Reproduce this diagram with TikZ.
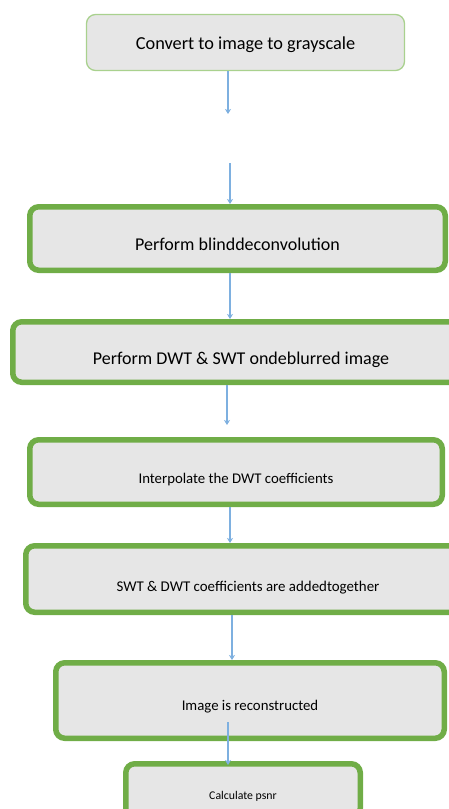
\documentclass[tikz,border=0pt]{standalone}
\usepackage{fontspec}
\setmainfont{Carlito}
\usetikzlibrary{arrows.meta}
\definecolor{boxgreen}{HTML}{70AD47}
\definecolor{palegreen}{HTML}{A9D18E}
\definecolor{boxgray}{HTML}{E6E6E6}
\definecolor{flowblue}{HTML}{7EB0E0}

\begin{document}
\begin{tikzpicture}[x=1pt,y=-1pt,
    stepbox/.style={draw=boxgreen, line width=5.5pt, fill=boxgray, rounded corners=9pt,
                    inner sep=0pt, text height=#1, text depth=0pt},
    flow/.style={draw=flowblue, line width=1.1pt, -{Stealth[length=5pt,width=6pt,inset=1.5pt]}}]
    \useasboundingbox (0,0) rectangle (449,809);
    \clip (0,0) rectangle (449,809);

    \node[draw=palegreen, line width=1.3pt, fill=boxgray, rounded corners=9pt, inner sep=0pt,
          text height=13pt, text depth=0pt,
          minimum width=318pt, minimum height=56pt, font=\fontsize{18.3}{21}\selectfont] (gray) at (245.5,42.5) {Convert to image to grayscale};
    \node[stepbox=23.8pt, minimum width=415.5pt, minimum height=63.5pt, font=\fontsize{18}{21}\selectfont] (blind) at (237.5,238.5) {Perform blinddeconvolution};
    \node[stepbox=24.8pt, minimum width=456.5pt, minimum height=60.5pt, font=\fontsize{18}{21}\selectfont] (dwt) at (241,352) {Perform DWT \& SWT ondeblurred image};
    \node[stepbox=22.9pt, minimum width=412.5pt, minimum height=64.5pt, font=\fontsize{14.8}{17}\selectfont] (interp) at (236,472) {Interpolate the DWT coefficients};
    \node[stepbox=24.9pt, minimum width=444.5pt, minimum height=66.5pt, font=\fontsize{14.9}{17}\selectfont] (added) at (248,579) {SWT \& DWT coefficients are addedtogether};
    \node[stepbox=19.9pt, minimum width=388.5pt, minimum height=75.5pt, font=\fontsize{14.8}{17}\selectfont] (recon) at (250,700.5) {Image is reconstructed};
    \node[stepbox=18.9pt, minimum width=234.5pt, minimum height=53.5pt, font=\fontsize{11.8}{14}\selectfont] (psnr) at (243,790.5) {Calculate psnr};

    \coordinate (gapA) at (228,114);
    \coordinate (gapB) at (230,163);

    \draw[flow] ([xshift=-17.5pt]gray.south) -- (gapA);
    \draw[flow] (gapB) -- ([xshift=-7.5pt]blind.north);
    \draw[flow] ([xshift=-7.5pt]blind.south) -- ([xshift=-11pt]dwt.north);
    \draw[flow, shorten >=12pt] ([xshift=-14pt]dwt.south) -- ([xshift=-9pt]interp.north);
    \draw[flow] ([xshift=-6pt]interp.south) -- ([xshift=-18pt]added.north);
    \draw[flow] ([xshift=-16pt]added.south) -- ([xshift=-18pt]recon.north);
    \draw[flow, shorten >=-4pt] ([xshift=-22pt,yshift=19pt]recon.south) -- ([xshift=-15pt]psnr.north);
\end{tikzpicture}
\end{document}
